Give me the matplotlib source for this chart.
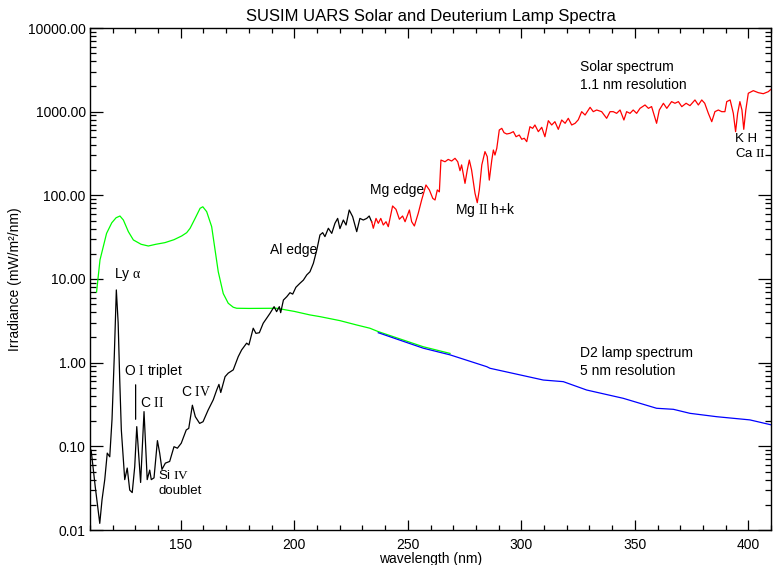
import matplotlib
matplotlib.use("Agg")
import matplotlib.pyplot as plt
from matplotlib.ticker import FixedLocator, MultipleLocator, LogLocator, FuncFormatter, NullFormatter

plt.rcParams['font.family'] = ['Liberation Sans', 'DejaVu Sans']
plt.rcParams['mathtext.fontset'] = 'custom'
plt.rcParams['mathtext.rm'] = 'Liberation Serif'
plt.rcParams['mathtext.it'] = 'Liberation Serif:italic'

# ---- data ----
solar_uv_wl = [110.5, 112.3, 113.5, 114.3, 115.3, 116.5, 117.6, 118.7, 119.7, 120.7, 121.6, 122.4,
               123.1, 123.8, 125.3, 126.4, 127.5, 128.6, 129.7, 130.6, 131.4, 132.3, 133.8, 134.8,
               135.2, 136.3, 137.0, 138.2, 139.7, 140.7, 141.7, 143.2, 145.1, 147.0, 148.5, 150.2,
               152.4, 153.5, 155.1, 156.4, 158.3, 159.8, 162.0, 164.3, 165.8, 166.8, 167.6, 169.5,
               170.9, 173.1, 175.3, 176.8, 179.0, 180.0, 181.9, 183.1, 184.6, 186.3, 187.8, 189.3,
               191.1, 192.2, 193.4, 194.0, 195.2, 196.7, 198.1, 199.3, 200.7, 202.5, 204.0, 205.5,
               206.9, 208.4, 209.9, 211.3, 212.5, 213.5, 215.0, 216.5, 217.9, 219.1, 220.1, 221.6,
               222.8, 224.2, 225.7, 227.5, 228.9, 230.4, 231.9, 233.0, 234.1]
solar_uv_val = [0.090, 0.033, 0.018, 0.012, 0.023, 0.040, 0.083, 0.075, 0.21, 1.2, 7.4, 3.0,
                0.62, 0.157, 0.040, 0.055, 0.030, 0.028, 0.057, 0.172, 0.083, 0.037, 0.26, 0.069,
                0.040, 0.052, 0.040, 0.042, 0.117, 0.083, 0.053, 0.063, 0.066, 0.099, 0.095, 0.109,
                0.157, 0.164, 0.31, 0.226, 0.188, 0.197, 0.27, 0.36, 0.47, 0.55, 0.44, 0.68,
                0.75, 0.82, 1.18, 1.42, 1.71, 1.63, 2.58, 2.24, 2.28, 2.96, 3.39, 3.89,
                4.67, 4.07, 4.67, 3.96, 5.6, 6.15, 6.86, 6.6, 7.96, 8.9, 9.7, 11.2,
                12.2, 15.4, 22.2, 33.6, 35.8, 32.1, 40.4, 35.1, 46.3, 53.0, 40.0, 50.7,
                44.2, 66.8, 55.6, 36.8, 53.0, 50.7, 53.0, 56.6, 48.0]

solar_wl = [234.1, 234.8, 236.0, 237.0, 238.1, 239.2, 240.4, 241.4, 243.3, 244.8, 246.3, 247.7,
            248.8, 250.7, 251.7, 252.9, 254.6, 256.1, 258.0, 259.5, 261.0, 262.0, 263.0, 263.9,
            264.6, 266.4, 267.8, 269.3, 270.8, 272.0, 273.0, 273.7, 275.2, 276.2, 277.1, 278.1,
            279.6, 280.6, 281.5, 282.6, 284.0, 285.0, 285.9, 287.0, 287.7, 288.4, 289.2, 290.3,
            291.4, 292.4, 293.6, 295.0, 296.5, 297.7, 299.1, 300.2, 301.3, 302.4, 303.8, 305.0,
            306.0, 307.5, 309.0, 310.4, 311.9, 313.4, 314.8, 316.3, 317.8, 319.3, 320.7, 322.2,
            323.7, 325.1, 326.6, 328.1, 330.3, 331.7, 333.2, 335.4, 337.6, 339.1, 340.5, 342.0,
            343.5, 345.2, 346.4, 347.9, 349.3, 350.8, 352.3, 354.5, 356.0, 357.4, 359.6, 360.8,
            362.6, 364.1, 366.2, 367.7, 369.2, 370.7, 372.6, 374.3, 376.5, 378.0, 379.5, 380.8,
            382.4, 383.9, 385.3, 386.8, 388.3, 389.7, 390.5, 392.0, 393.4, 394.4, 395.3, 396.3,
            397.2, 398.0, 398.9, 400.0, 402.2, 404.4, 406.6, 408.8, 410.0]
solar_val = [48.4, 40.4, 53, 46.3, 53, 44.2, 48.4, 42.2, 74.6, 68, 51.8, 56.6,
             48.4, 66.8, 48.4, 43, 61, 88, 133, 116, 92, 88, 116, 110,
             264, 252, 269, 257, 277, 252, 197, 231, 139, 201, 264, 201,
             106, 81.7, 116, 231, 333, 290, 152, 264, 348, 303, 365, 604,
             632, 561, 541, 551, 577, 502, 526, 468, 481, 438, 661, 632,
             693, 577, 650, 502, 780, 693, 759, 615, 795, 726, 833, 693,
             726, 800, 1000, 912, 1127, 1000, 1047, 1000, 833, 1000, 1000, 955,
             1047, 795, 1000, 955, 1047, 955, 1096, 1202, 1096, 1150, 726, 1047,
             1259, 1096, 1318, 1260, 1318, 1148, 1260, 1180, 1380, 1202, 1380, 1260,
             955, 759, 1000, 1047, 1000, 1000, 1318, 1380, 955, 577, 955, 1318,
             1047, 615, 1047, 1660, 1783, 1687, 1640, 1733, 1850]

lamp_green_wl = [112.9, 114.4, 117.3, 119.6, 121.5, 123.2, 124.7, 126.9, 129.1, 132.5, 135.7, 139.0,
                 143.0, 147.0, 150.4, 152.6, 154.1, 156.3, 158.5, 159.7, 161.4, 163.6, 165.1, 166.5,
                 168.7, 170.9, 173.1, 174.6, 180.0, 192.2, 200.0, 206.9, 211.3, 220.1, 227.5, 233.3,
                 237.0, 256.8, 268.6]
lamp_green_val = [7.0, 16.9, 35.1, 47.0, 54.0, 56.6, 50.7, 36.8, 29.3, 26.0, 24.8, 26.0,
                  27.2, 29.5, 32.7, 35.8, 40.4, 53.0, 70.0, 73.0, 63.8, 42.2, 22.2, 12.2,
                  6.7, 5.13, 4.6, 4.47, 4.45, 4.47, 4.1, 3.72, 3.55, 3.18, 2.82, 2.58,
                  2.35, 1.55, 1.29]

lamp_blue_wl = [237.0, 256.8, 268.6, 284.8, 286.2, 309.7, 318.5, 328.8, 344.9, 359.6, 367.0,
                374.3, 386.1, 400.7, 410.3]
lamp_blue_val = [2.28, 1.49, 1.24, 0.895, 0.857, 0.62, 0.593, 0.471, 0.375, 0.285, 0.277,
                 0.248, 0.226, 0.207, 0.18]

x_major = [150, 200, 250, 300, 350, 400]
y_major = [0.01, 0.1, 1, 10, 100, 1000, 10000]

# ---- figure ----
fig = plt.figure(figsize=(7.73, 5.65), dpi=100)
ax = fig.add_axes([90 / 773, 35 / 565, 681 / 773, 502 / 565])

lw = 0.9
ax.plot(lamp_green_wl, lamp_green_val, color='#00ff00', lw=lw)
ax.plot(lamp_blue_wl, lamp_blue_val, color='#0000ff', lw=lw)
ax.plot(solar_uv_wl, solar_uv_val, color='black', lw=lw)
ax.plot(solar_wl, solar_val, color='#ff0000', lw=lw)

ax.set_yscale('log')
ax.set_xlim(110, 410)
ax.set_ylim(0.01, 10000)

ax.xaxis.set_major_locator(FixedLocator(x_major))
ax.xaxis.set_minor_locator(MultipleLocator(10))
ax.yaxis.set_major_locator(FixedLocator(y_major))
ax.yaxis.set_minor_locator(LogLocator(base=10, subs=range(2, 10), numticks=20))
ax.yaxis.set_minor_formatter(NullFormatter())
ax.yaxis.set_major_formatter(FuncFormatter(lambda v, p: f"{v:.2f}"))

ax.tick_params(axis='both', which='both', direction='in', top=True, right=True,
               labelsize=10, width=0.9, colors='black')
ax.tick_params(axis='x', which='major', length=7.2, pad=6)
ax.tick_params(axis='x', which='minor', length=3.6)
ax.tick_params(axis='y', which='major', length=9.4, pad=3)
ax.tick_params(axis='y', which='minor', length=4.5)
for s in ax.spines.values():
    s.set_linewidth(1.0)

ax.set_title("SUSIM UARS Solar and Deuterium Lamp Spectra", fontsize=12, pad=5)
ax.set_xlabel("wavelength (nm)", fontsize=10, labelpad=0)
ax.set_ylabel("Irradiance (mW/m²/nm)", fontsize=10, labelpad=4)

fs = 10
def txt(x, y, s, size=fs):
    ax.text(x, y, s, fontsize=size, ha='left', va='center')

txt(120.6, 11.2, r"Ly $\mathrm{α}$")
txt(125.0, 0.795, r"O $\mathrm{I}$ triplet")
txt(132.0, 0.33, r"C $\mathrm{II}$")
txt(150.1, 0.447, r"C $\mathrm{IV}$")
txt(140.0, 0.0443, r"Si $\mathrm{IV}$", 9.5)
txt(140.0, 0.0290, "doublet", 9.5)
txt(189.3, 22.2, "Al edge")
txt(233.3, 116, "Mg edge")
txt(270.8, 66.8, r"Mg $\mathrm{II}$ h+k")
txt(325.9, 3420, "Solar spectrum")
txt(325.9, 2083, "1.1 nm resolution")
txt(394.1, 475, "K H", 9.5)
txt(394.1, 318, r"Ca $\mathrm{II}$", 9.5)
txt(325.9, 1.31, "D2 lamp spectrum")
txt(325.9, 0.795, "5 nm resolution")

ax.annotate("", xy=(130.1, 0.195), xytext=(130.1, 0.587),
            arrowprops=dict(arrowstyle='-', color='black', lw=0.9))

fig.savefig("out.png", dpi=100)
